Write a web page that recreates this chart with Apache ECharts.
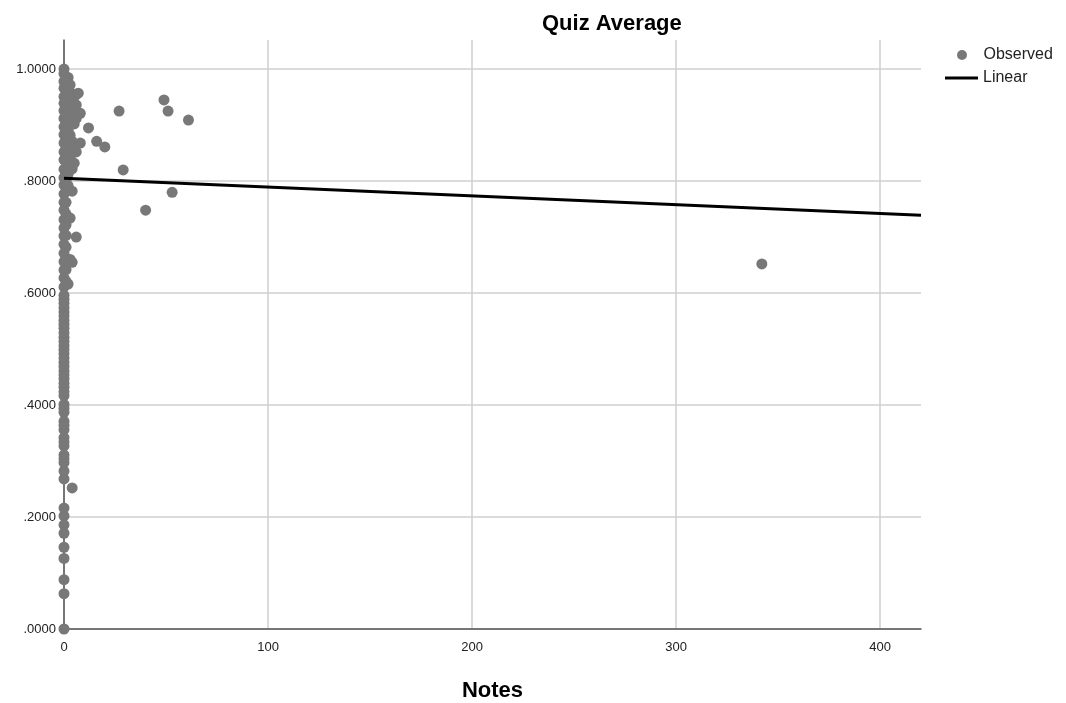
<!DOCTYPE html>
<html>
<head>
<meta charset="utf-8">
<script src="https://cdn.jsdelivr.net/npm/echarts@6/dist/echarts.min.js"></script>
<style>
  html, body { margin: 0; padding: 0; background: #fff; }
  #chart { width: 1066px; height: 703px; }
</style>
</head>
<body>
<div id="chart"></div>
<script>
// observed points: notes count vs quiz average
const notesValues = [
  0, 0, 0, 0, 0, 0, 0, 0, 0, 0, 0, 0, 0, 0, 0, 0, 0, 0, 0, 0,
  0, 0, 0, 0, 0, 0, 0, 0, 0, 0, 0, 0, 0, 0, 0, 0, 0, 0, 0, 0,
  0, 0, 0, 0, 0, 0, 0, 0, 0, 0, 0, 0, 0, 0, 0, 0, 0, 0, 0, 0,
  0, 0, 0, 0, 0, 0, 0, 0, 0, 0, 0, 0, 0, 0, 0, 0,
  1, 1, 1, 1, 1, 1, 1, 1, 1, 1, 1, 1, 1, 1, 1, 1, 1, 1, 1,
  2, 2, 2, 2, 2, 2, 2, 2, 2, 2, 2, 2,
  3, 3, 3, 3, 3, 3, 3, 3, 3, 3,
  4, 4, 4, 4, 4, 4, 4, 4, 4,
  5, 5, 5, 5, 5,
  6, 6, 6, 6, 6,
  7, 7, 8, 8, 12, 16, 20, 27, 29, 40, 49, 51, 53, 61, 342
];
const quizValues = [
  1.0, 0.992, 0.978, 0.966, 0.951, 0.939, 0.926, 0.912, 0.897, 0.883, 0.868, 0.852, 0.838, 0.821, 0.806, 0.793, 0.777, 0.762, 0.748, 0.731,
  0.716, 0.702, 0.687, 0.671, 0.656, 0.641, 0.627, 0.611, 0.596, 0.582, 0.566, 0.551, 0.537, 0.521, 0.506, 0.492, 0.476, 0.461, 0.447, 0.432,
  0.417, 0.401, 0.387, 0.371, 0.356, 0.342, 0.327, 0.311, 0.297, 0.282, 0.268, 0.216, 0.202, 0.186, 0.171, 0.146, 0.126, 0.088, 0.063, 0.0,
  0.589, 0.574, 0.559, 0.544, 0.529, 0.514, 0.499, 0.484, 0.469, 0.454, 0.439, 0.424, 0.394, 0.364, 0.334, 0.304,
  0.981, 0.962, 0.943, 0.921, 0.904, 0.884, 0.862, 0.843, 0.822, 0.801, 0.781, 0.762, 0.741, 0.722, 0.703, 0.682, 0.661, 0.642, 0.621,
  0.985, 0.952, 0.931, 0.911, 0.891, 0.872, 0.851, 0.832, 0.812, 0.792, 0.734, 0.616,
  0.972, 0.946, 0.922, 0.901, 0.882, 0.861, 0.842, 0.821, 0.734, 0.66,
  0.956, 0.931, 0.912, 0.871, 0.852, 0.822, 0.782, 0.655, 0.252,
  0.951, 0.926, 0.902, 0.862, 0.832,
  0.955, 0.936, 0.912, 0.852, 0.70,
  0.957, 0.921, 0.921, 0.868, 0.895, 0.871, 0.861, 0.925, 0.820, 0.748, 0.945, 0.925, 0.780, 0.909, 0.652
];

// linear fit, drawn between the axis ends
const fitNotes = [0, 420];
const fitQuiz = [0.805, 0.739];

const observed = notesValues.map((n, i) => [n, quizValues[i]]);
const linear = fitNotes.map((n, i) => [n, fitQuiz[i]]);

const chart = echarts.init(document.getElementById("chart"));

const option = {
  animation: false,
  backgroundColor: "#ffffff",
  textStyle: { fontFamily: "Liberation Sans, Arial, sans-serif" },
  title: {
    text: "Quiz Average",
    left: 537,
    top: 8,
    textStyle: { fontSize: 22, fontWeight: "bold", color: "#000" },
  },
  legend: [
    {
      orient: "vertical",
      left: 957,
      top: 47,
      padding: 0,
      itemWidth: 33,
      itemHeight: 10,
      textStyle: { fontSize: 16, color: "#222" },
      data: [{ name: "Observed", icon: "circle" }],
    },
    {
      orient: "vertical",
      left: 945,
      top: 70,
      padding: 0,
      itemWidth: 33,
      itemHeight: 3,
      textStyle: { fontSize: 16, color: "#222" },
      data: [{ name: "Linear", icon: "rect" }],
    },
  ],
  grid: {
    left: 64,
    right: 145,
    top: 40,
    bottom: 74,
    outerBoundsMode: "none",
    containLabel: false,
  },
  xAxis: {
    type: "value",
    min: 0,
    max: 420,
    interval: 100,
    name: "Notes",
    nameLocation: "middle",
    nameGap: 51,
    nameTextStyle: { fontSize: 22, fontWeight: "bold", color: "#000" },
    axisLine: { show: true, lineStyle: { color: "#555", width: 1.5 } },
    axisTick: { show: false },
    axisLabel: { color: "#222", fontSize: 13, margin: 12, showMaxLabel: false },
    splitLine: {
      show: true,
      showMaxLine: false,
      lineStyle: { color: "#cfcfcf", width: 1.5 },
    },
  },
  yAxis: {
    type: "value",
    min: 0,
    max: 1.052,
    interval: 0.2,
    axisLine: { show: true, lineStyle: { color: "#555", width: 1.5 } },
    axisTick: { show: false },
    axisLabel: {
      color: "#222",
      fontSize: 13,
      margin: 8,
      showMaxLabel: false,
      formatter: (v) => (v >= 1 ? v.toFixed(4) : v.toFixed(4).replace(/^0/, "")),
    },
    splitLine: {
      show: true,
      showMaxLine: false,
      lineStyle: { color: "#cfcfcf", width: 1.5 },
    },
  },
  series: [
    {
      name: "Observed",
      type: "scatter",
      symbol: "circle",
      symbolSize: 11,
      itemStyle: { color: "#787878", opacity: 1 },
      emphasis: { disabled: true },
      data: observed,
      z: 3,
    },
    {
      name: "Linear",
      type: "line",
      symbol: "none",
      lineStyle: { color: "#000", width: 3 },
      itemStyle: { color: "#000" },
      emphasis: { disabled: true },
      data: linear,
      z: 4,
    },
  ],
};

chart.setOption(option);
window.addEventListener("resize", () => {
  chart.resize();
});
</script>
</body>
</html>
